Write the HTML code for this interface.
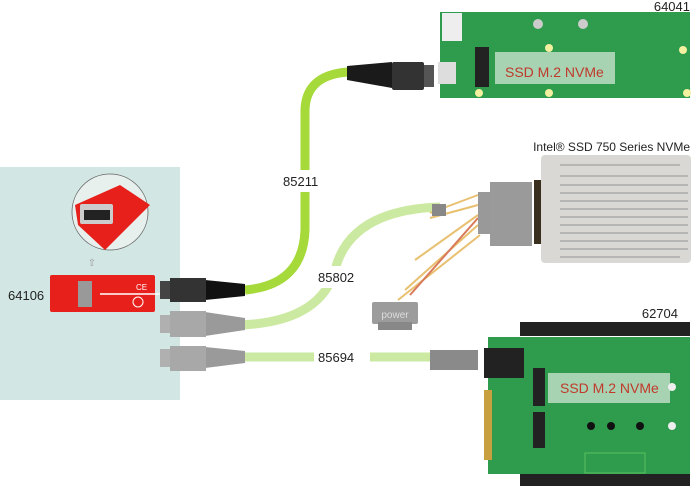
<!DOCTYPE html>
<html><head><meta charset="utf-8"><style>
html,body{margin:0;padding:0;background:#fff;}
svg{display:block;font-family:"Liberation Sans",Arial,sans-serif;}
</style></head><body>
<svg width="696" height="492" viewBox="0 0 696 492" xmlns="http://www.w3.org/2000/svg">
<rect width="696" height="492" fill="#fff"/>
<rect x="0" y="167" width="180" height="233" fill="#d2e7e3"/>
<path d="M245 290 Q303 285 305 230 L305 110 Q306 75 348 72" stroke="#a6d93a" stroke-width="9" fill="none"/>
<path d="M240 325 Q320 322 335 270 Q350 210 440 207" stroke="#cbe9a0" stroke-width="9" fill="none"/>
<path d="M240 357 L440 357" stroke="#cbe9a0" stroke-width="9" fill="none"/>
<rect x="280" y="170" width="52" height="22" fill="#fff"/>
<rect x="316" y="266" width="52" height="22" fill="#fff"/>
<rect x="314" y="348" width="56" height="20" fill="#fff"/>
<path d="M347 66 L392 62 L392 88 L347 80 Z" fill="#1a1a1a"/>
<rect x="392" y="62" width="32" height="28" fill="#333" rx="2"/>
<rect x="424" y="65" width="10" height="22" fill="#555"/>
<rect x="440" y="12" width="250" height="86" fill="#2f9b4c"/>
<rect x="442" y="13" width="20" height="28" fill="#eee"/>
<rect x="438" y="62" width="18" height="22" fill="#ddd"/>
<rect x="475" y="47" width="14" height="40" fill="#222"/>
<rect x="495" y="52" width="120" height="32" fill="#a7d3b3"/>
<text x="505" y="77" font-size="14" fill="#c0392b">SSD M.2 NVMe</text>
<circle cx="479" cy="93" r="4" fill="#f3f0a0"/><circle cx="549" cy="93" r="4" fill="#f3f0a0"/><circle cx="687" cy="93" r="4" fill="#f3f0a0"/><circle cx="683" cy="50" r="4" fill="#f3f0a0"/><circle cx="549" cy="48" r="4" fill="#f3f0a0"/>
<circle cx="538" cy="24" r="5" fill="#ccc"/><circle cx="583" cy="24" r="5" fill="#ccc"/>
<text x="690" y="11" font-size="13" fill="#222" text-anchor="end">64041</text>
<path d="M430 213 L478 195 M430 218 L478 205 M415 260 L478 215 M405 290 L478 225 M398 300 L480 235" stroke="#e8c070" stroke-width="2" fill="none"/>
<path d="M410 295 L478 218" stroke="#d87a5a" stroke-width="2"/>
<rect x="432" y="204" width="14" height="12" fill="#888"/>
<rect x="478" y="192" width="15" height="42" fill="#999"/>
<rect x="490" y="182" width="42" height="64" fill="#9a9a9a"/>
<rect x="534" y="180" width="8" height="64" fill="#3a3020"/>
<rect x="541" y="155" width="150" height="108" fill="#d9d8d4" rx="4"/>
<g stroke="#aaa" stroke-width="1.5">
<line x1="560" y1="185" x2="688" y2="185"/><line x1="560" y1="193" x2="688" y2="193"/><line x1="560" y1="201" x2="688" y2="201"/><line x1="560" y1="209" x2="688" y2="209"/><line x1="560" y1="217" x2="688" y2="217"/><line x1="560" y1="225" x2="688" y2="225"/><line x1="560" y1="233" x2="688" y2="233"/><line x1="560" y1="241" x2="688" y2="241"/><line x1="560" y1="249" x2="688" y2="249"/><line x1="560" y1="165" x2="680" y2="165"/><line x1="560" y1="176" x2="688" y2="176"/><line x1="560" y1="257" x2="680" y2="257"/>
</g>
<text x="690" y="151" font-size="12" fill="#222" text-anchor="end">Intel® SSD 750 Series NVMe</text>
<rect x="372" y="302" width="46" height="22" fill="#9c9c9c" rx="2"/>
<rect x="378" y="322" width="34" height="8" fill="#888"/>
<text x="395" y="318" font-size="10" fill="#ddd" text-anchor="middle">power</text>
<rect x="520" y="322" width="170" height="14" fill="#222"/>
<rect x="520" y="472" width="170" height="14" fill="#222"/>
<rect x="488" y="337" width="202" height="137" fill="#2f9b4c"/>
<rect x="484" y="390" width="8" height="70" fill="#c8a040"/>
<rect x="430" y="350" width="48" height="20" fill="#8a8a8a"/>
<rect x="484" y="348" width="40" height="30" fill="#222"/>
<rect x="533" y="368" width="12" height="38" fill="#222"/>
<rect x="533" y="412" width="12" height="36" fill="#222"/>
<rect x="548" y="373" width="122" height="30" fill="#a7d3b3"/>
<text x="560" y="393" font-size="14" fill="#c0392b">SSD M.2 NVMe</text>
<circle cx="591" cy="426" r="4" fill="#111"/><circle cx="611" cy="426" r="4" fill="#111"/><circle cx="640" cy="426" r="4" fill="#111"/><circle cx="672" cy="426" r="4" fill="#eee"/><circle cx="672" cy="387" r="4" fill="#eee"/>
<rect x="585" y="453" width="60" height="20" fill="none" stroke="#6c6" stroke-width="0.8"/>
<text x="678" y="318" font-size="13" fill="#222" text-anchor="end">62704</text>
<path d="M205 280 L245 284 L245 296 L205 300 Z" fill="#111"/>
<rect x="170" y="278" width="36" height="24" fill="#333"/>
<rect x="160" y="281" width="10" height="18" fill="#444"/>
<path d="M205 312 L245 318 L245 330 L205 336 Z" fill="#9a9a9a"/>
<rect x="170" y="311" width="36" height="26" fill="#a8a8a8"/>
<rect x="160" y="315" width="10" height="18" fill="#b0b0b0"/>
<path d="M205 347 L245 351 L245 363 L205 368 Z" fill="#9a9a9a"/>
<rect x="170" y="346" width="36" height="25" fill="#a8a8a8"/>
<rect x="160" y="349" width="10" height="18" fill="#b0b0b0"/>
<rect x="50" y="275" width="105" height="37" fill="#e8201c" rx="2"/>
<rect x="78" y="281" width="14" height="26" fill="#999"/>
<line x1="100" y1="294" x2="160" y2="294" stroke="#fff" stroke-width="1.5"/>
<circle cx="138" cy="302" r="5" fill="none" stroke="#fff" stroke-width="1"/>
<text x="136" y="290" font-size="8" fill="#fff">CE</text>
<text x="8" y="300" font-size="13" fill="#222">64106</text>
<circle cx="110" cy="212" r="38" fill="#e8f0ee" stroke="#666" stroke-width="0.8"/>
<path d="M75 205 L120 185 L150 205 L105 250 L78 225 Z" fill="#e8201c"/>
<rect x="80" y="204" width="33" height="20" fill="#ccc" rx="2"/>
<rect x="84" y="210" width="26" height="10" fill="#222"/>
<text x="92" y="266" font-size="10" fill="#999" text-anchor="middle">⇧</text>
<text x="283" y="186" font-size="13" fill="#222">85211</text>
<text x="318" y="282" font-size="13" fill="#222">85802</text>
<text x="318" y="362" font-size="13" fill="#222">85694</text>
</svg>
</body></html>
